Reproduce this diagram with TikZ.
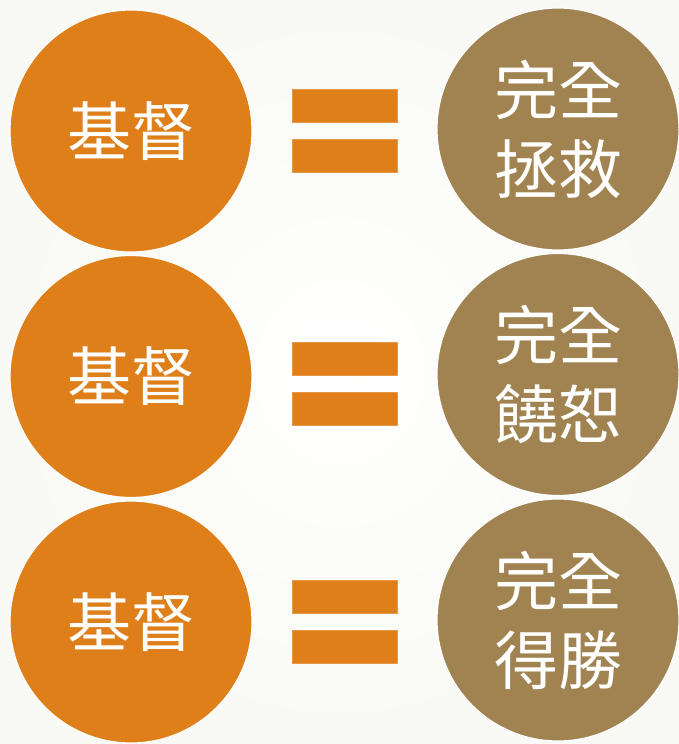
\documentclass[tikz,border=0pt]{standalone}
\usepackage{fontspec}
\newfontfamily\cjk{Noto Sans CJK TC}
\definecolor{orng}{RGB}{223,127,26}
\definecolor{brwn}{RGB}{160,131,80}
\definecolor{bgedge}{RGB}{249,249,245}
\begin{document}
\begin{tikzpicture}[x=1pt,y=-1pt,
  lcirc/.style={circle,fill=orng,draw=white,line width=1.2pt,minimum size=242pt,inner sep=0pt,text=white,font=\cjk\fontsize{64}{79}\selectfont},
  rcirc/.style={circle,fill=brwn,draw=white,line width=1.2pt,minimum size=242pt,inner sep=0pt,text=white,align=center,font=\cjk\fontsize{64}{79}\selectfont},
  bar/.style={rectangle,fill=orng,draw=orng!80!white,line width=0.6pt,minimum width=105pt,minimum height=33pt,inner sep=0pt}]
\useasboundingbox (0,0) rectangle (679,744);
\shade[inner color=white,outer color=bgedge] (0,0) rectangle (679,744);
\foreach \i/\cy/\by/\txt in {1/131/131/拯救,2/376.5/384/饒恕,3/622/622/得勝}{
  \node[lcirc] (l\i) at (131,\cy) {\raisebox{3pt}{基督}};
  \node[rcirc] (r\i) at (558,\cy-2) {完全\\\txt};
  \node[bar] (ea\i) at (344.5,\by-25) {};
  \node[bar] (eb\i) at (344.5,\by+25) {};
}
\end{tikzpicture}
\end{document}
